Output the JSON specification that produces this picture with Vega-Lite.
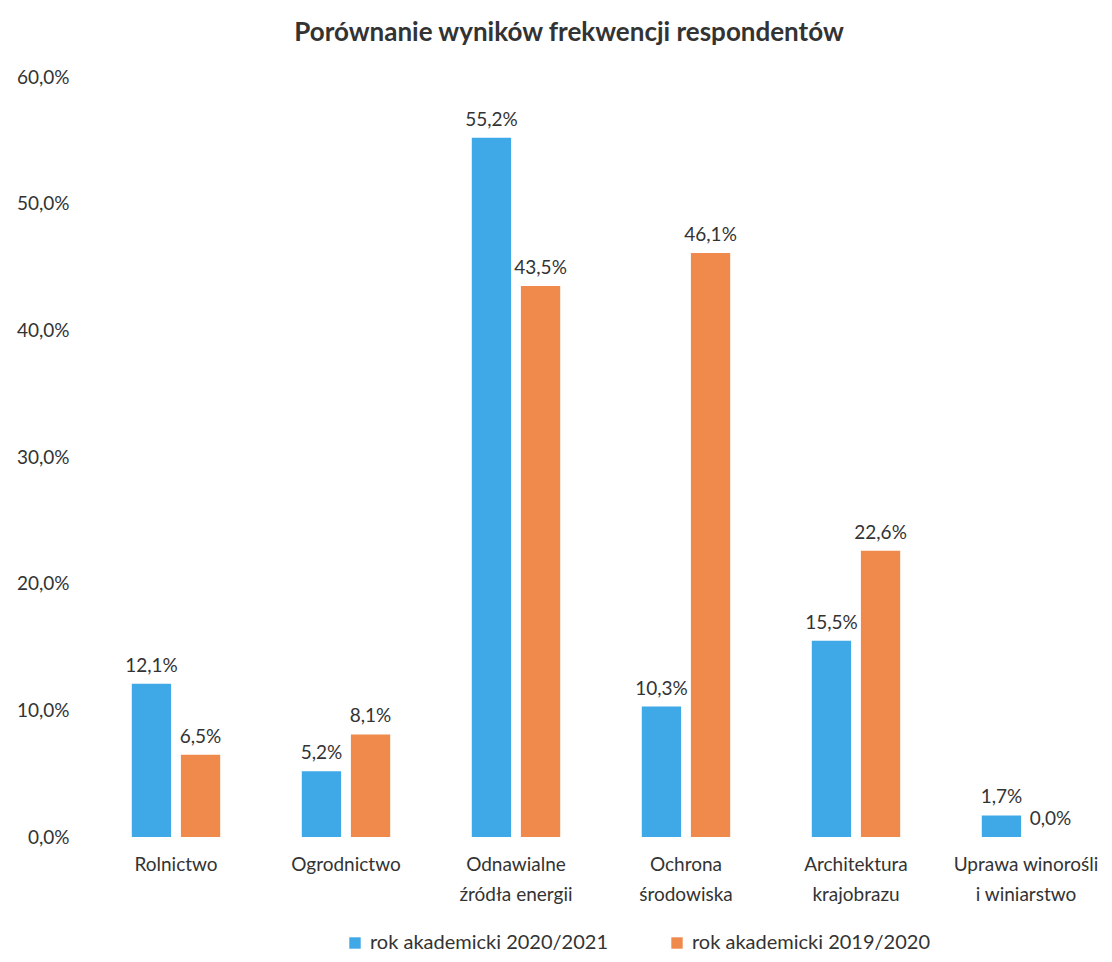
{
  "$schema": "https://vega.github.io/schema/vega-lite/v6.json",
  "width": 1020,
  "height": 760,
  "autosize": {"type": "none"},
  "padding": {"left": 91, "top": 77, "right": 1, "bottom": 125},
  "background": "white",
  "config": {
    "view": {"stroke": null},
    "font": "Lato",
    "locale": {"number": {"decimal": ",", "thousands": " ", "grouping": [3], "currency": ["", " zł"], "percent": "%"}}
  },
  "title": {
    "text": "Porównanie wyników frekwencji respondentów",
    "fontSize": 26,
    "fontWeight": "bold",
    "color": "#333333",
    "font": "Lato",
    "offset": 22,
    "dx": -32
  },
  "data": {
    "values": [
      {"kierunek": "Rolnictwo", "rok": "rok akademicki 2020/2021", "wartosc": 0.121},
      {"kierunek": "Rolnictwo", "rok": "rok akademicki 2019/2020", "wartosc": 0.065},
      {"kierunek": "Ogrodnictwo", "rok": "rok akademicki 2020/2021", "wartosc": 0.052},
      {"kierunek": "Ogrodnictwo", "rok": "rok akademicki 2019/2020", "wartosc": 0.081},
      {"kierunek": "Odnawialne źródła energii", "rok": "rok akademicki 2020/2021", "wartosc": 0.552},
      {"kierunek": "Odnawialne źródła energii", "rok": "rok akademicki 2019/2020", "wartosc": 0.435},
      {"kierunek": "Ochrona środowiska", "rok": "rok akademicki 2020/2021", "wartosc": 0.103},
      {"kierunek": "Ochrona środowiska", "rok": "rok akademicki 2019/2020", "wartosc": 0.461},
      {"kierunek": "Architektura krajobrazu", "rok": "rok akademicki 2020/2021", "wartosc": 0.155},
      {"kierunek": "Architektura krajobrazu", "rok": "rok akademicki 2019/2020", "wartosc": 0.226},
      {"kierunek": "Uprawa winorośli i winiarstwo", "rok": "rok akademicki 2020/2021", "wartosc": 0.017},
      {"kierunek": "Uprawa winorośli i winiarstwo", "rok": "rok akademicki 2019/2020", "wartosc": 0.0}
    ]
  },
  "encoding": {
    "x": {
      "field": "kierunek",
      "type": "nominal",
      "sort": null,
      "scale": {"paddingInner": 0.48, "paddingOuter": 0.24},
      "axis": {
        "title": null,
        "domain": false,
        "ticks": false,
        "labelAngle": 0,
        "labelPadding": 18,
        "labelFontSize": 19,
        "labelColor": "#333333",
        "labelLineHeight": 30,
        "labelExpr": "datum.value == 'Odnawialne źródła energii' ? ['Odnawialne', 'źródła energii'] : datum.value == 'Ochrona środowiska' ? ['Ochrona', 'środowiska'] : datum.value == 'Architektura krajobrazu' ? ['Architektura', 'krajobrazu'] : datum.value == 'Uprawa winorośli i winiarstwo' ? ['Uprawa winorośli', 'i winiarstwo'] : datum.label"
      }
    },
    "xOffset": {
      "field": "rok",
      "type": "nominal",
      "sort": ["rok akademicki 2020/2021", "rok akademicki 2019/2020"],
      "scale": {"paddingInner": 0.2, "paddingOuter": 0}
    },
    "y": {
      "field": "wartosc",
      "type": "quantitative",
      "scale": {"domain": [0, 0.6], "nice": false},
      "axis": {
        "title": null,
        "values": [0, 0.1, 0.2, 0.3, 0.4, 0.5, 0.6],
        "format": ".1%",
        "grid": false,
        "domain": false,
        "ticks": false,
        "labelPadding": 22,
        "labelFontSize": 19,
        "labelColor": "#333333"
      }
    }
  },
  "layer": [
    {
      "mark": {"type": "bar"},
      "encoding": {
        "color": {
          "field": "rok",
          "type": "nominal",
          "sort": ["rok akademicki 2020/2021", "rok akademicki 2019/2020"],
          "scale": {"domain": ["rok akademicki 2020/2021", "rok akademicki 2019/2020"], "range": ["#3fa8e6", "#ef8a4c"]},
          "legend": {
            "title": null,
            "orient": "none",
            "direction": "horizontal",
            "legendX": 254,
            "legendY": 856,
            "symbolType": "square",
            "symbolSize": 130,
            "symbolStrokeWidth": 0,
            "labelFontSize": 20,
            "labelLimit": 0,
            "labelColor": "#333333",
            "labelOffset": 5,
            "columnPadding": 58
          }
        }
      }
    },
    {
      "mark": {"type": "text", "baseline": "bottom", "dy": -8, "fontSize": 19, "color": "#333333"},
      "encoding": {
        "text": {"field": "wartosc", "type": "quantitative", "format": ".1%"}
      }
    }
  ]
}
